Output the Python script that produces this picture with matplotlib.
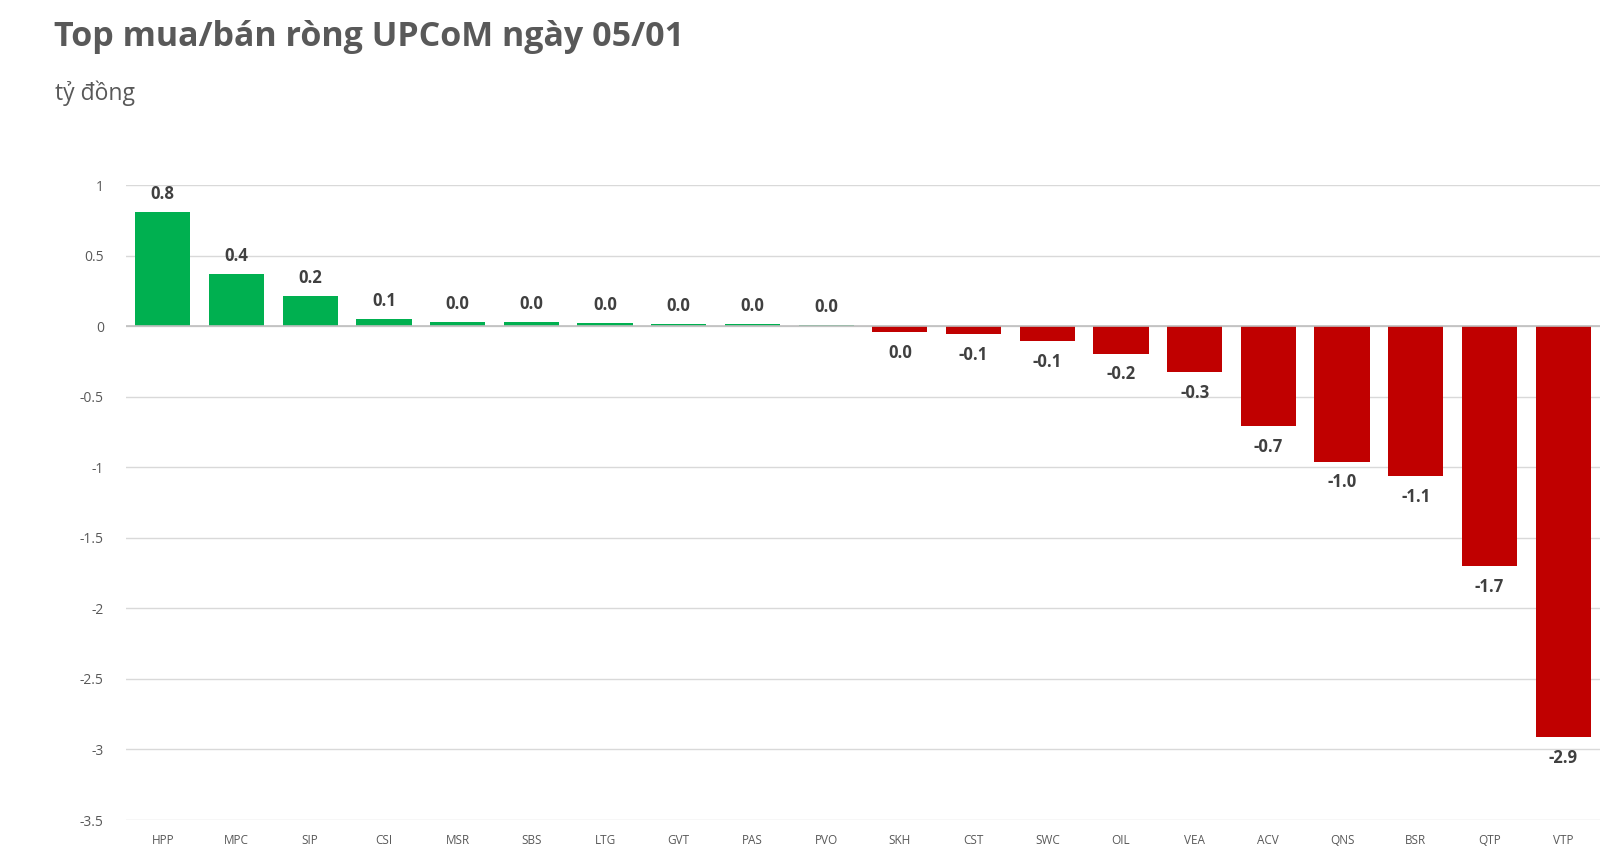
import matplotlib
matplotlib.use("Agg")
import matplotlib.pyplot as plt

categories = ["HPP", "MPC", "SIP", "CSI", "MSR", "SBS", "LTG", "GVT", "PAS", "PVO",
              "SKH", "CST", "SWC", "OIL", "VEA", "ACV", "QNS", "BSR", "QTP", "VTP"]
values = [0.81, 0.37, 0.21, 0.05, 0.03, 0.03, 0.022, 0.015, 0.014, 0.007,
          -0.043, -0.058, -0.108, -0.195, -0.326, -0.71, -0.96, -1.06, -1.70, -2.91]
yticks = [1, 0.5, 0, -0.5, -1, -1.5, -2, -2.5, -3, -3.5]
ytick_labels = ["1", "0.5", "0", "-0.5", "-1", "-1.5", "-2", "-2.5", "-3", "-3.5"]

title = "Top mua/bán ròng UPCoM ngày 05/01"
subtitle = "tỷ đồng"

plt.rcParams['font.family'] = ['Open Sans', 'DejaVu Sans']

fig = plt.figure(figsize=(16, 8.52), dpi=100)
ax = fig.add_axes([126/1600, 1 - 820/852, 1 - 126/1600, (820 - 185)/852])

colors = ["#00B050" if v >= 0 else "#C00000" for v in values]
x = list(range(len(categories)))
ax.bar(x, values, width=0.75, color=colors, zorder=3)

ax.set_xlim(-0.5, len(categories) - 0.5)
ax.set_ylim(-3.5, 1)
ax.set_yticks(yticks)
ax.set_yticklabels(ytick_labels)
ax.set_xticks(x)
ax.set_xticklabels(categories)
ax.tick_params(axis='y', length=0, pad=16, labelsize=10, labelcolor="#595959")
ax.tick_params(axis='x', length=0, pad=10, labelsize=8.5, labelcolor="#595959")
ax.grid(axis='y', color="#D9D9D9", linewidth=1, zorder=0)
ax.axhline(0, color="#BFBFBF", linewidth=1.2, zorder=4)
for s in ax.spines.values():
    s.set_visible(False)

for xi, v in zip(x, values):
    lab = f"{v:.1f}"
    if lab == "-0.0":
        lab = "0.0"
    off = 13 if v >= 0 else -15
    ax.annotate(lab, (xi, v), xytext=(0, off), textcoords='offset points',
                ha='center', va='center', fontsize=12, fontweight='bold', color="#404040")

fig.text(54/1600, 1 - 37/852, title, fontsize=24.5, fontweight='bold', color="#595959",
         ha='left', va='center')
fig.text(55/1600, 1 - 93/852, subtitle, fontsize=16.5, color="#595959", ha='left', va='center')

fig.savefig("out.png", dpi=100, facecolor="white")
